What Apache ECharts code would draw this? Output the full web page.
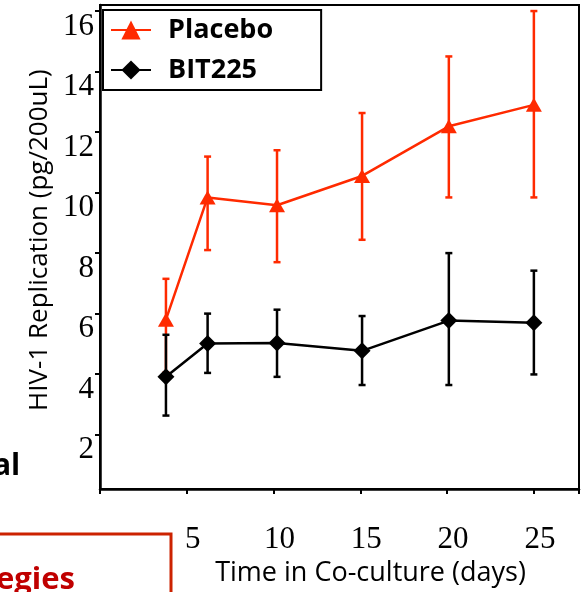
<!DOCTYPE html>
<html>
<head>
<meta charset="utf-8">
<script src="https://cdn.jsdelivr.net/npm/echarts@6/dist/echarts.min.js"></script>
<style>
    html, body { margin: 0; padding: 0; background: #fff; }
    #chart { width: 582px; height: 592px; }
</style>
</head>
<body>
<div id="chart"></div>
<script>
// days of co-culture
const days = [3.8, 6.2, 10.2, 15.1, 20.1, 25];

const placeboMean = [5.8, 9.84, 9.58, 10.55, 12.19, 12.9];
const placeboLow = [4.05, 8.1, 7.7, 8.44, 9.84, 9.84];
const placeboHigh = [7.15, 11.19, 11.4, 12.63, 14.5, 16.0];

const bitMean = [3.91, 5.01, 5.03, 4.77, 5.77, 5.7];
const bitLow = [2.63, 4.04, 3.91, 3.64, 3.64, 3.99];
const bitHigh = [5.3, 6.0, 6.13, 5.92, 8.0, 7.42];

const yTicks = [2, 4, 6, 8, 10, 12, 14, 16];
const xTicks = [5, 10, 15, 20, 25];

const RED = "#ff2a00";
const BLACK = "#000";

function pairs(xs, ys) {
    return xs.map((x, i) => [x, ys[i]]);
}

function errorSeries(name, color, low, high) {
    return {
        name: name + " error",
        type: "custom",
        data: days.map((d, i) => [d, low[i], high[i]]),
        renderItem: function (params, api) {
            const top = api.coord([api.value(0), api.value(2)]);
            const bot = api.coord([api.value(0), api.value(1)]);
            const cap = 3.5;
            const style = { stroke: color, lineWidth: 2.5 };
            return {
                type: "group",
                children: [
                    { type: "line", shape: { x1: top[0], y1: top[1], x2: bot[0], y2: bot[1] }, style: style },
                    { type: "line", shape: { x1: top[0] - cap, y1: top[1], x2: top[0] + cap, y2: top[1] }, style: style },
                    { type: "line", shape: { x1: bot[0] - cap, y1: bot[1], x2: bot[0] + cap, y2: bot[1] }, style: style }
                ]
            };
        },
        encode: { x: 0, y: [1, 2] },
        z: 2
    };
}

const chart = echarts.init(document.getElementById("chart"), null, { renderer: "canvas" });

chart.setOption({
    animation: false,
    backgroundColor: "#fff",
    grid: {
        left: 100,
        right: 3,
        top: 5,
        bottom: 101,
        show: true,
        borderColor: BLACK,
        borderWidth: 2
    },
    legend: {
        data: ["Placebo", "BIT225"],
        orient: "vertical",
        left: 103,
        top: 10,
        itemWidth: 40,
        itemHeight: 24,
        itemGap: 0,
        padding: [0, 48, 0, 7],
        borderColor: BLACK,
        borderWidth: 2,
        textStyle: {
            fontFamily: '"Open Sans", sans-serif',
            fontWeight: "bold",
            fontSize: 27,
            color: BLACK,
            lineHeight: 24,
            padding: [16, 0, 0, 12]
        }
    },
    xAxis: {
        type: "value",
        min: 0,
        max: 27.6,
        name: "Time in Co-culture (days)",
        nameLocation: "middle",
        nameGap: 70,
        nameTextStyle: {
            fontFamily: '"Open Sans", sans-serif',
            fontSize: 27,
            color: BLACK,
            padding: [0, 0, 0, 62]
        },
        axisLine: { lineStyle: { color: BLACK, width: 2.5 } },
        axisTick: { customValues: [0].concat(xTicks, [27.6]), length: 5, lineStyle: { color: BLACK, width: 2 } },
        axisLabel: {
            customValues: xTicks,
            margin: 35,
            verticalAlign: "top",
            fontFamily: '"Liberation Serif", serif',
            fontSize: 31,
            color: BLACK,
            padding: [0, 0, 0, 12]
        },
        splitLine: { show: false }
    },
    yAxis: {
        type: "value",
        min: 0.2,
        max: 16.2,
        name: "HIV-1 Replication (pg/200uL)",
        nameLocation: "middle",
        nameGap: 46,
        nameRotate: 90,
        nameTextStyle: {
            fontFamily: '"Open Sans", sans-serif',
            fontSize: 26,
            color: BLACK,
            padding: [0, 0, 0, 14]
        },
        axisLine: { lineStyle: { color: BLACK, width: 2.5 } },
        axisTick: { customValues: yTicks, length: 5, lineStyle: { color: BLACK, width: 2 } },
        axisLabel: {
            customValues: yTicks,
            margin: 6,
            verticalAlign: "top",
            fontFamily: '"Liberation Serif", serif',
            fontSize: 31,
            color: BLACK
        },
        splitLine: { show: false }
    },
    series: [
        errorSeries("Placebo", RED, placeboLow, placeboHigh),
        {
            name: "Placebo",
            type: "line",
            data: pairs(days, placeboMean),
            symbol: "triangle",
            symbolSize: [16, 14],
            lineStyle: { color: RED, width: 2.5 },
            itemStyle: { color: RED },
            z: 3
        },
        errorSeries("BIT225", BLACK, bitLow, bitHigh),
        {
            name: "BIT225",
            type: "line",
            data: pairs(days, bitMean),
            symbol: "diamond",
            symbolSize: 17,
            lineStyle: { color: BLACK, width: 2.5 },
            itemStyle: { color: BLACK },
            z: 5
        }
    ],
    graphic: [
        {
            type: "text",
            x: -7,
            y: 451,
            style: {
                text: "al",
                fontFamily: '"Open Sans", sans-serif',
                fontWeight: "bold",
                fontSize: 30,
                fill: BLACK
            }
        },
        {
            type: "rect",
            shape: { x: -10, y: 534, width: 181, height: 100 },
            style: { fill: "none", stroke: "#cc2200", lineWidth: 3 }
        },
        {
            type: "text",
            x: -4,
            y: 565,
            style: {
                text: "egies",
                fontFamily: '"Open Sans", sans-serif',
                fontWeight: "bold",
                fontSize: 31,
                fill: "#c00000"
            }
        }
    ]
});
</script>
</body>
</html>
